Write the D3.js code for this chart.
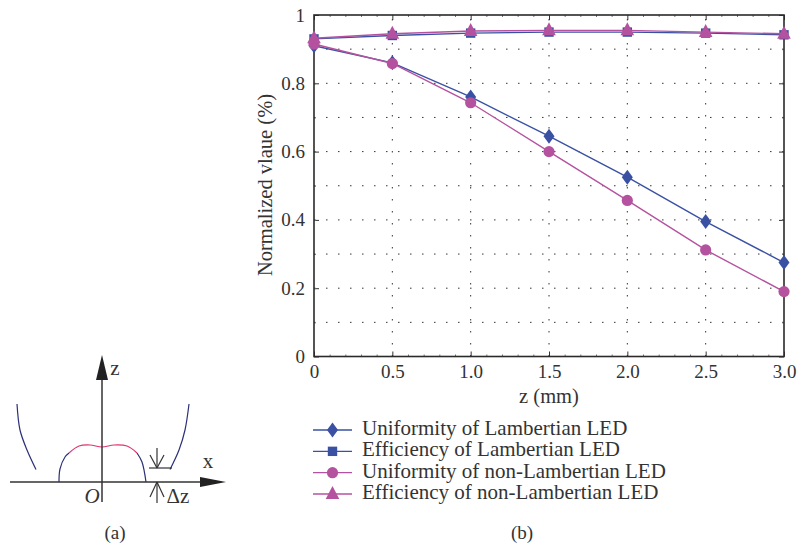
<!DOCTYPE html>
<html>
    <head>
        <title>Normalized value vs z</title>
        <meta charset="UTF-8">
        <style type="text/css">
            body{margin:0;background:#fff;}
            text{font-family:"Liberation Serif",serif;fill:#333;}
            .axis path{display:none;}
            .axis line{stroke:#333;stroke-width:1px;}
            .minor line{stroke:#777;}
            .grid{stroke:#333;stroke-width:1px;stroke-dasharray:1.5 10.5;}
            .frame{fill:none;stroke:#2a2a2a;stroke-width:1.6px;}
        </style>
        <script src="https://d3js.org/d3.v7.min.js"></script>
    </head>
    <body>
        <svg width="798" height="545"></svg>

        <script type="text/javascript">
            // values
            var zValues = [0, 0.5, 1.0, 1.5, 2.0, 2.5, 3.0];
            var uniformityLambertian = [0.91, 0.86, 0.76, 0.645, 0.525, 0.395, 0.275];
            var efficiencyLambertian = [0.93, 0.94, 0.947, 0.95, 0.95, 0.947, 0.942];
            var uniformityNonLambertian = [0.915, 0.858, 0.743, 0.6, 0.457, 0.312, 0.19];
            var efficiencyNonLambertian = [0.932, 0.945, 0.953, 0.955, 0.955, 0.95, 0.945];
            var seriesNames = ["Uniformity of Lambertian LED", "Efficiency of Lambertian LED",
                "Uniformity of non-Lambertian LED", "Efficiency of non-Lambertian LED"];
            var xTicks = [0, 0.5, 1.0, 1.5, 2.0, 2.5, 3.0];
            var xMinorTicks = [0.1, 0.2, 0.3, 0.4, 0.6, 0.7, 0.8, 0.9, 1.1, 1.2, 1.3, 1.4, 1.6, 1.7, 1.8, 1.9, 2.1, 2.2, 2.3, 2.4, 2.6, 2.7, 2.8, 2.9];
            var yTicks = [0, 0.2, 0.4, 0.6, 0.8, 1];
            var yGrid = [0.1, 0.2, 0.3, 0.4, 0.5, 0.6, 0.7, 0.8, 0.9];

            // schematic (a), in units from the point O
            var leftReflector = [[-85, 78], [-82, 52], [-75, 32], [-66, 12.5]];
            var rightReflector = [[87, 78], [83, 52], [77, 32], [68, 12.5]];
            var domeLeft = [[-43, 0], [-42, 13], [-37, 25], [-33, 29]];
            var domeTop = [[-33, 29], [-23, 36], [-12, 37], [0, 35], [12, 37], [25, 36], [35, 29]];
            var domeRight = [[35, 29], [40, 20], [44, 0]];

            var blue = "#3a51a3", pink = "#b5529f";

            var svg = d3.select("svg"),
                margin = {top: 15, right: 14, bottom: 188.5, left: 314},
                width = +svg.attr("width") - margin.left - margin.right,
                height = +svg.attr("height") - margin.top - margin.bottom;

            var x = d3.scaleLinear().domain([0, 3]).range([0, width]),
                y = d3.scaleLinear().domain([0, 1]).range([height, 0]);

            var g = svg.append("g").attr("transform", `translate(${margin.left},${margin.top})`);

            // dotted grid
            g.selectAll(".gridY").data(yGrid).enter().append("line")
                .attr("class", "grid")
                .attr("x1", 0).attr("x2", width)
                .attr("y1", d => y(d)).attr("y2", d => y(d));
            g.selectAll(".gridX").data(xTicks.slice(1, -1)).enter().append("line")
                .attr("class", "grid")
                .attr("x1", d => x(d)).attr("x2", d => x(d))
                .attr("y1", height).attr("y2", 0);

            // ticks on all four sides, pointing in
            function tickSide(axis, values, size, tx, ty, labels){
                var a = g.append("g").attr("class", size > -3 ? "axis minor" : "axis")
                    .attr("transform", `translate(${tx},${ty})`)
                    .call(axis.tickValues(values).tickSize(size).tickFormat(labels ? labels : ""));
                return a;
            }
            var yFmt = d => d === 0 || d === 1 ? String(d) : d3.format(".1f")(d);
            var xFmt = d => d === 0 ? "0" : d3.format(".1f")(d);

            var bottomAxis = tickSide(d3.axisBottom(x), xTicks, -5, 0, height, xFmt);
            bottomAxis.selectAll("text").attr("y", 8).style("font-size", "19px");
            tickSide(d3.axisBottom(x), xMinorTicks, -2, 0, height);
            tickSide(d3.axisTop(x), xTicks, -5, 0, 0);
            tickSide(d3.axisTop(x), xMinorTicks, -2, 0, 0);
            var leftAxis = tickSide(d3.axisLeft(y), yTicks, -5, 0, 0, yFmt);
            leftAxis.selectAll("text").attr("x", -9).style("font-size", "19px");
            tickSide(d3.axisLeft(y), yGrid, -2, 0, 0);
            tickSide(d3.axisRight(y), yTicks, -5, width, 0);
            tickSide(d3.axisRight(y), yGrid, -2, width, 0);

            g.append("rect").attr("class", "frame").attr("width", width).attr("height", height);

            var line = d3.line()
                .x((d, i) => x(zValues[i]))
                .y(d => y(d));

            var symDiamond = {draw(c, s){ c.moveTo(0, -7.5); c.lineTo(5.5, 0); c.lineTo(0, 7.5); c.lineTo(-5.5, 0); c.closePath(); }};
            var symSquare = {draw(c, s){ c.rect(-4.7, -4.7, 9.4, 9.4); }};
            var symCircle = {draw(c, s){ c.arc(0, 0, 5.6, 0, 2 * Math.PI); }};
            var symTriangle = {draw(c, s){ c.moveTo(0, -8); c.lineTo(6.8, 5); c.lineTo(-6.8, 5); c.closePath(); }};

            var series = [
                {name: seriesNames[0], values: uniformityLambertian, color: blue, sym: symDiamond},
                {name: seriesNames[1], values: efficiencyLambertian, color: blue, sym: symSquare},
                {name: seriesNames[2], values: uniformityNonLambertian, color: pink, sym: symCircle},
                {name: seriesNames[3], values: efficiencyNonLambertian, color: pink, sym: symTriangle}
            ];

            series.forEach(function(s){
                g.append("path").datum(s.values)
                    .attr("fill", "none").attr("stroke", s.color).attr("stroke-width", 1.4)
                    .attr("d", line);
                g.selectAll(null).data(s.values).enter().append("path")
                    .attr("fill", s.color)
                    .attr("transform", (d, i) => `translate(${x(zValues[i])},${y(d)})`)
                    .attr("d", d3.symbol().type(s.sym));
            });

            // axis titles
            svg.append("text").attr("x", 549).attr("y", 403)
                .attr("text-anchor", "middle").style("font-size", "20.5px").text("z (mm)");
            svg.append("text")
                .attr("transform", "translate(272,185) rotate(-90)")
                .attr("text-anchor", "middle").style("font-size", "20.5px").text("Normalized vlaue (%)");

            // legend
            var legendY = d3.scalePoint().domain(seriesNames).range([430, 494]);
            var legend = svg.selectAll(".legend").data(series).enter().append("g")
                .attr("transform", d => `translate(313,${legendY(d.name)})`);
            legend.append("line").attr("x1", 0).attr("x2", 39)
                .attr("stroke", d => d.color).attr("stroke-width", 1.4);
            legend.append("path").attr("fill", d => d.color)
                .attr("transform", "translate(19.5,0)")
                .attr("d", d => d3.symbol().type(d.sym)());
            legend.append("text").attr("x", 49).attr("y", 5)
                .style("font-size", "21px").text(d => d.name);

            // panel (a) schematic
            var sx = d3.scaleLinear().domain([-102, 127]).range([0, 229]),
                sy = d3.scaleLinear().domain([0, 130]).range([482, 352]);
            var a = svg.append("g");
            var curve = d3.line().x(d => sx(d[0])).y(d => sy(d[1])).curve(d3.curveCatmullRom);
            var navy = "#2b2f77";
            [leftReflector, rightReflector, domeLeft, domeRight].forEach(function(p){
                a.append("path").attr("d", curve(p)).attr("fill", "none").attr("stroke", navy).attr("stroke-width", 1.2);
            });
            a.append("path").attr("d", curve(domeTop)).attr("fill", "none").attr("stroke", "#e0336f").attr("stroke-width", 1.2);

            function seg(x1, y1, x2, y2, w){
                a.append("line").attr("x1", sx(x1)).attr("y1", sy(y1)).attr("x2", sx(x2)).attr("y2", sy(y2))
                    .attr("stroke", "#333").attr("stroke-width", w || 1.2);
            }
            seg(-92, 0, 100, 0, 1.5);
            seg(0, -20, 0, 105, 1.5);
            a.append("path").attr("fill", "#222")
                .attr("d", `M${sx(0)},${sy(127)}L${sx(6)},${sy(102)}L${sx(-6)},${sy(102)}Z`);
            a.append("path").attr("fill", "#222")
                .attr("d", `M${sx(124)},${sy(0)}L${sx(98)},${sy(5)}L${sx(98)},${sy(-5)}Z`);
            // delta z marker
            seg(47, 14, 70, 14);
            seg(55, 34, 55, 14);
            seg(48, 27, 55, 14);
            seg(62, 27, 55, 14);
            seg(55, 0, 55, -21);
            seg(48, -15, 55, 0);
            seg(62, -15, 55, 0);

            function label(t, px, py, size, italic){
                svg.append("text").attr("x", sx(px)).attr("y", sy(py)).attr("text-anchor", "middle")
                    .style("font-size", size + "px").style("font-style", italic ? "italic" : "normal").text(t);
            }
            label("z", 13, 107, 21);
            label("x", 106, 14, 21);
            label("O", -10, -21, 21, true);
            label("Δz", 76, -21, 21);
            svg.append("text").attr("x", 115).attr("y", 539).attr("text-anchor", "middle").style("font-size", "19px").text("(a)");
            svg.append("text").attr("x", 522).attr("y", 539).attr("text-anchor", "middle").style("font-size", "19px").text("(b)");
        </script>
    </body>
</html>
